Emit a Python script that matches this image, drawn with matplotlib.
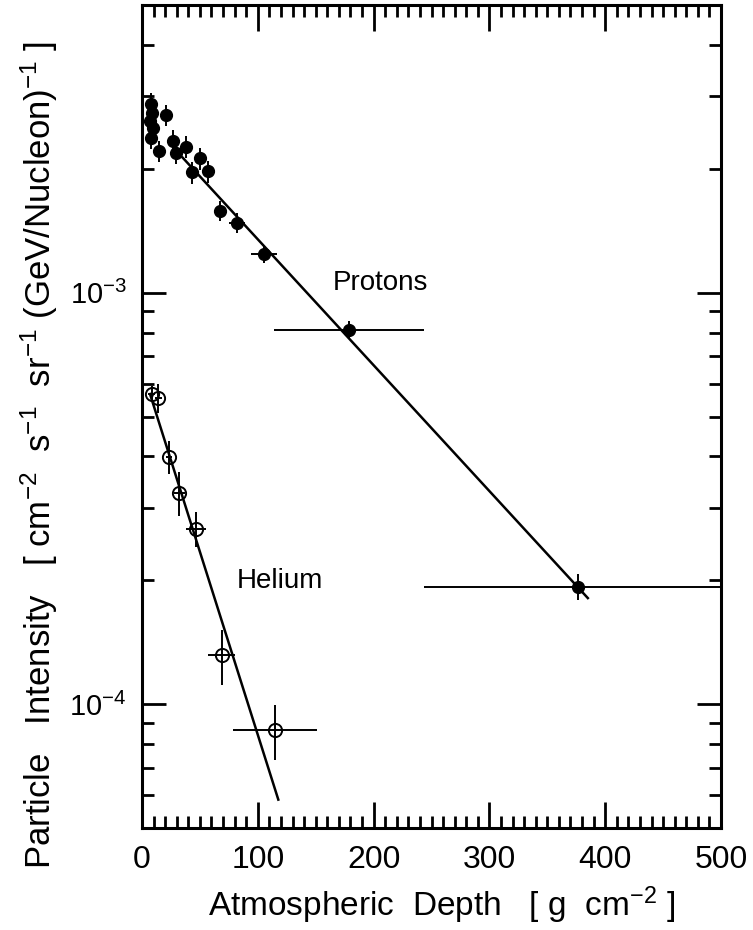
import matplotlib
matplotlib.use('Agg')
import matplotlib.pyplot as plt
from matplotlib.ticker import MultipleLocator, LogLocator

plt.rcParams['font.family'] = ['Liberation Sans', 'DejaVu Sans']
plt.rcParams['mathtext.fontset'] = 'custom'
plt.rcParams['mathtext.rm'] = 'Liberation Sans'
plt.rcParams['mathtext.it'] = 'Liberation Sans:italic'
plt.rcParams['mathtext.bf'] = 'Liberation Sans:bold'

# protons (filled circles)
p_depth = [7.8, 8.6, 6.9, 9.5, 7.8, 20.7, 14.7, 26.8, 29.4, 38.0, 43.2, 50.1, 57.0, 67.4, 82.0, 105.4, 178.8, 376.5]
p_flux = [2.88e-3, 2.74e-3, 2.62e-3, 2.51e-3, 2.37e-3, 2.70e-3, 2.21e-3, 2.34e-3, 2.18e-3, 2.26e-3,
          1.96e-3, 2.12e-3, 1.97e-3, 1.58e-3, 1.48e-3, 1.24e-3, 8.13e-4, 1.93e-4]
p_xerr = [0, 0, 0, 0, 0, 0, 0, 0, 0, 0, 0, 0, 0, 0, 7, 11, 65, 133]
p_yerr = [1.7e-4, 1.6e-4, 1.6e-4, 1.5e-4, 1.4e-4, 1.6e-4, 1.3e-4, 1.4e-4, 1.3e-4, 1.4e-4,
          1.2e-4, 1.3e-4, 1.2e-4, 9e-5, 8e-5, 6e-5, 4e-5, 1.4e-5]

# helium (open circles)
he_depth = [8.4, 14.1, 23.3, 32.2, 46.3, 68.8, 114.9]
he_flux = [5.67e-4, 5.56e-4, 3.99e-4, 3.26e-4, 2.67e-4, 1.315e-4, 8.63e-5]
he_xerr = [3, 3, 3, 5, 8.6, 11.8, 36]
he_yerr = [2.5e-5, 4.5e-5, 3.6e-5, 4.0e-5, 2.6e-5, 2.0e-5, 1.3e-5]

# fitted attenuation lines (end points)
p_fit_x = [35, 385]
p_fit_y = [2.13e-3, 1.81e-4]
he_fit_x = [6.9, 117.7]
he_fit_y = [5.67e-4, 5.86e-5]

fig = plt.figure(figsize=(7.53, 9.30), dpi=100)
ax = fig.add_axes([0.1886, 0.1097, 0.7689, 0.8849])

ax.plot(p_fit_x, p_fit_y, color='black', lw=1.8, zorder=2)
ax.plot(he_fit_x, he_fit_y, color='black', lw=1.8, zorder=2)

ax.errorbar(p_depth, p_flux, xerr=p_xerr, yerr=p_yerr, fmt='o', color='black',
            ms=8.5, elinewidth=1.4, capsize=0, zorder=3)
ax.errorbar(he_depth, he_flux, xerr=he_xerr, yerr=he_yerr, fmt='o', color='black',
            mfc='none', mec='black', mew=1.4, ms=9.5, elinewidth=1.4, capsize=0, zorder=3)

ax.text(205.5, 1.057e-3, 'Protons', fontsize=20, ha='center', va='center')
ax.text(119, 1.99e-4, 'Helium', fontsize=20, ha='center', va='center')

ax.set_yscale('log')
ax.set_xlim(0, 500)
ax.set_ylim(5e-5, 5e-3)
ax.xaxis.set_major_locator(MultipleLocator(100))
ax.xaxis.set_minor_locator(MultipleLocator(10))
ax.yaxis.set_major_locator(LogLocator(base=10))
ax.yaxis.set_minor_locator(LogLocator(base=10, subs=range(2, 10)))

for s in ax.spines.values():
    s.set_linewidth(2.2)
ax.tick_params(which='both', direction='in', top=True, right=True, width=2, labelsize=23)
ax.tick_params(axis='x', which='major', length=19, pad=12)
ax.tick_params(axis='y', which='major', length=17, pad=11, labelsize=21)
ax.tick_params(which='minor', length=8.5)

ax.set_xlabel(r'Atmospheric  Depth   [ g  cm$^{-2}$ ]', fontsize=24)
ax.set_ylabel(r'Particle   Intensity   [ cm$^{-2}$  s$^{-1}$  sr$^{-1}$ (GeV/Nucleon)$^{-1}$ ]',
              fontsize=25)
ax.xaxis.set_label_coords(0.518, -0.069)
ax.yaxis.set_label_coords(-0.142, 0.453)

fig.savefig('out.png', dpi=100)
